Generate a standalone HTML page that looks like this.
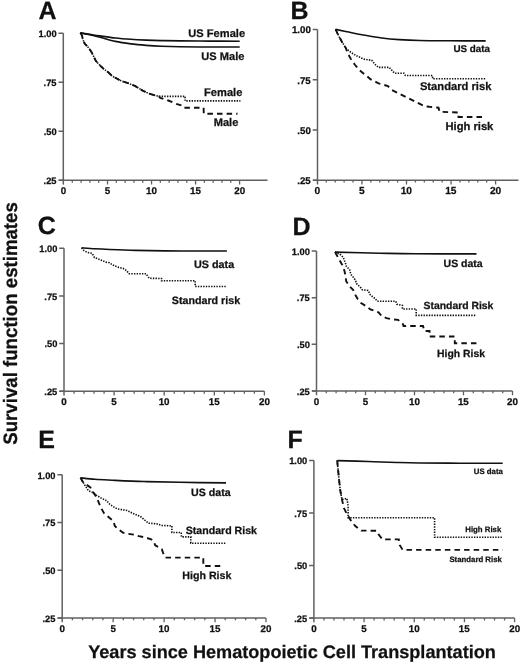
<!DOCTYPE html><html><head><meta charset="utf-8"><style>
html,body{margin:0;padding:0;background:#fff;}
svg{display:block;will-change:transform;}
text{font-family:"Liberation Sans",sans-serif;font-weight:bold;fill:#111;text-rendering:geometricPrecision;stroke:#111;stroke-width:0.25px;}
.ax{stroke:#606060;stroke-width:1.5;fill:none;}
.tk{stroke:#606060;stroke-width:1.3;fill:none;}
.so{stroke:#111;stroke-width:1.6;fill:none;stroke-linejoin:round;}
.dt{stroke:#111;stroke-width:1.6;fill:none;stroke-dasharray:1.4 1.25;}
.da{stroke:#111;stroke-width:1.9;fill:none;stroke-dasharray:5.5 4.1;}
</style></head><body>
<svg width="520" height="663" viewBox="0 0 520 663">
<rect width="520" height="663" fill="#fff"/>
<text x="38.38" y="18.5" font-size="25">A</text>
<text x="290.48" y="18.5" font-size="25">B</text>
<text x="37.7" y="234.3" font-size="25">C</text>
<text x="292.48" y="234.8" font-size="25">D</text>
<text x="38.17" y="447.7" font-size="25">E</text>
<text x="287.57" y="447.7" font-size="25">F</text>
<text transform="translate(16.5 444.3) rotate(-90) scale(1 1.04)" x="-0.47" y="0" font-size="18.66">Survival function estimates</text>
<text x="88.23" y="657.8" font-size="18.12">Years since Hematopoietic Cell Transplantation</text>
<path class="ax" d="M63.3 33.2 V184.6"/>
<path class="ax" d="M58.8 180.3 H267.5"/>
<text x="38.54" y="37" font-size="9.3">1.00</text>
<text x="43.61" y="86.03" font-size="9.3">.75</text>
<text x="43.7" y="135.07" font-size="9.3">.50</text>
<text x="43.61" y="184.1" font-size="9.3">.25</text>
<path class="ax" d="M58.5 33.2 H63.3 M58.5 82.23 H63.3 M58.5 131.27 H63.3 M58.5 180.3 H63.3 "/>
<path class="tk" d="M72.31 180.3 V182.7 M81.11 180.3 V182.7 M89.91 180.3 V182.7 M98.72 180.3 V182.7 M107.53 180.3 V184.6 M116.33 180.3 V182.7 M125.13 180.3 V182.7 M133.94 180.3 V182.7 M142.75 180.3 V182.7 M151.55 180.3 V184.6 M160.35 180.3 V182.7 M169.16 180.3 V182.7 M177.97 180.3 V182.7 M186.77 180.3 V182.7 M195.57 180.3 V184.6 M204.38 180.3 V182.7 M213.19 180.3 V182.7 M221.99 180.3 V182.7 M230.79 180.3 V182.7 M239.6 180.3 V184.6 "/>
<text x="60.78" y="193.9" font-size="9.8">0</text>
<text x="104.78" y="193.9" font-size="9.8">5</text>
<text x="145.99" y="193.9" font-size="9.8">10</text>
<text x="189.96" y="193.9" font-size="9.8">15</text>
<text x="234.19" y="193.9" font-size="9.8">20</text>
<path class="so" d="M80.3 32.9 C81.92 33.15 86.72 33.9 90 34.4 C93.28 34.9 95.77 35.3 100 35.9 C104.23 36.5 110.27 37.43 115.4 38 C120.53 38.57 125.67 38.95 130.8 39.3 C135.93 39.65 141.08 39.88 146.2 40.1 C151.32 40.32 155.87 40.47 161.5 40.6 C167.13 40.73 171.92 40.82 180 40.9 C188.08 40.98 200.05 41.05 210 41.1 C219.95 41.15 234.75 41.18 239.7 41.2"/>
<path class="so" d="M80.3 32.9 C81.92 33.22 86.72 34.08 90 34.8 C93.28 35.52 95.77 36.1 100 37.2 C104.23 38.3 110.27 40.28 115.4 41.4 C120.53 42.52 125.67 43.23 130.8 43.9 C135.93 44.57 141.08 45 146.2 45.4 C151.32 45.8 155.87 46.07 161.5 46.3 C167.13 46.53 171.92 46.68 180 46.8 C188.08 46.92 200.05 46.97 210 47 C219.95 47.03 234.75 47 239.7 47"/>
<path class="dt" d="M80.3 33 L81.8 35 L82.9 39.5 L84.7 43.6 L87.5 46.5 L89.6 49.3 L91.6 52.2 L93.3 55.7 L95.6 60.5 L99 64.4 L103 68.3 L108.5 72.5 L112.5 76.3 L117.9 79.2 L121.9 81.2 L128.6 83.3 L135.4 86.2 L142.1 90.3 L148.8 93.5 L155.6 95.6 L158.8 96.4 L185.1 96.4 L185.1 100.9 L240.4 100.9"/>
<path class="da" d="M80.3 33 L81.8 35 L82.9 39.5 L84.7 43.6 L87.5 46.5 L89.6 49.3 L91.6 52.2 L93.3 55.7 L95.6 60.5 L99 64.4 L103 68.3 L108.5 72.5 L112.5 76.3 L117.9 79.2 L121.9 81.2 L128.6 83.3 L135.4 86.2 L142.1 90.3 L148.8 93.5 L155.6 95.6 L158.8 96.4 L160.2 97.8 L168.3 100.5 L176.3 103.8 L183.1 105.9 L184.2 107.7 L203.6 107.7 L203.8 113.7 L237.5 113.7"/>
<text x="188.33" y="37" font-size="11.1">US Female</text>
<text x="201.33" y="59.5" font-size="11.1">US Male</text>
<text x="204.08" y="96.3" font-size="11.1">Female</text>
<text x="213.68" y="126.2" font-size="11.1">Male</text>
<path class="ax" d="M317.5 29.4 V184.5"/>
<path class="ax" d="M313 180.2 H518.5"/>
<text x="291.97" y="33.34" font-size="9.7">1.00</text>
<text x="297.26" y="83.61" font-size="9.7">.75</text>
<text x="297.36" y="133.88" font-size="9.7">.50</text>
<text x="297.26" y="184.14" font-size="9.7">.25</text>
<path class="ax" d="M312.7 29.4 H317.5 M312.7 79.67 H317.5 M312.7 129.93 H317.5 M312.7 180.2 H317.5 "/>
<path class="tk" d="M326.31 180.2 V182.6 M335.22 180.2 V182.6 M344.13 180.2 V182.6 M353.04 180.2 V182.6 M361.95 180.2 V184.5 M370.86 180.2 V182.6 M379.77 180.2 V182.6 M388.68 180.2 V182.6 M397.59 180.2 V182.6 M406.5 180.2 V184.5 M415.41 180.2 V182.6 M424.32 180.2 V182.6 M433.23 180.2 V182.6 M442.14 180.2 V182.6 M451.05 180.2 V184.5 M459.96 180.2 V182.6 M468.87 180.2 V182.6 M477.78 180.2 V182.6 M486.69 180.2 V182.6 M495.6 180.2 V184.5 "/>
<text x="314.57" y="193.8" font-size="10.2">0</text>
<text x="359.09" y="193.8" font-size="10.2">5</text>
<text x="400.71" y="193.8" font-size="10.2">10</text>
<text x="445.21" y="193.8" font-size="10.2">15</text>
<text x="489.96" y="193.8" font-size="10.2">20</text>
<path class="so" d="M335.6 29.4 C337.55 29.8 342.47 30.83 347.3 31.8 C352.13 32.77 358.83 34.17 364.6 35.2 C370.37 36.23 376.13 37.27 381.9 38 C387.67 38.73 392.85 39.18 399.2 39.6 C405.55 40.02 411.53 40.3 420 40.5 C428.47 40.7 439.05 40.73 450 40.8 C460.95 40.87 479.75 40.88 485.7 40.9"/>
<path class="dt" d="M335.6 29.4 L338.2 35 L342 41.9 L345.8 48.1 L351.2 52.7 L356.6 55.8 L364.3 59.3 L371.7 60.3 L375.8 65.1 L378.5 67.4 L389.2 67.4 L394.6 73.2 L404 73.2 L405.4 75.5 L432.3 75.5 L432.8 78.7 L486.2 78.7"/>
<path class="da" d="M335.6 29.4 L338.2 35 L342 41.9 L345.8 48.1 L348.2 54.2 L351.2 59.6 L355.1 65 L358.9 69.6 L364.3 74.2 L366.9 76 L370.4 79.2 L378.5 83.3 L387.9 86 L391.9 90 L400 94 L408.1 98.1 L416.1 102.1 L424.2 106.1 L429.2 106.8 L438.5 107.7 L439.5 111.8 L452.3 112.3 L458.5 112.5 L458.5 117 L485.4 117"/>
<text x="453.41" y="51.8" font-size="9.8">US data</text>
<text x="419.92" y="90.3" font-size="11.2">Standard risk</text>
<text x="445.47" y="130" font-size="11.2">High risk</text>
<path class="ax" d="M64 248.2 V395.6"/>
<path class="ax" d="M59.5 391.3 H264.4"/>
<text x="39.24" y="252" font-size="9.3">1.00</text>
<text x="44.31" y="299.7" font-size="9.3">.75</text>
<text x="44.4" y="347.4" font-size="9.3">.50</text>
<text x="44.31" y="395.1" font-size="9.3">.25</text>
<path class="ax" d="M59.2 248.2 H64 M59.2 295.9 H64 M59.2 343.6 H64 M59.2 391.3 H64 "/>
<path class="tk" d="M74.02 391.3 V393.7 M84.04 391.3 V393.7 M94.06 391.3 V393.7 M104.08 391.3 V393.7 M114.1 391.3 V395.6 M124.12 391.3 V393.7 M134.14 391.3 V393.7 M144.16 391.3 V393.7 M154.18 391.3 V393.7 M164.2 391.3 V395.6 M174.22 391.3 V393.7 M184.24 391.3 V393.7 M194.26 391.3 V393.7 M204.28 391.3 V393.7 M214.3 391.3 V395.6 M224.32 391.3 V393.7 M234.34 391.3 V393.7 M244.36 391.3 V393.7 M254.38 391.3 V393.7 M264.4 391.3 V395.6 "/>
<text x="61.28" y="404.9" font-size="9.8">0</text>
<text x="111.36" y="404.9" font-size="9.8">5</text>
<text x="158.64" y="404.9" font-size="9.8">10</text>
<text x="208.69" y="404.9" font-size="9.8">15</text>
<text x="258.99" y="404.9" font-size="9.8">20</text>
<path class="so" d="M81.6 247.8 C83.83 247.97 90.33 248.52 95 248.8 C99.67 249.08 102.83 249.23 109.6 249.5 C116.37 249.77 126.37 250.17 135.6 250.4 C144.83 250.63 154.27 250.8 165 250.9 C175.73 251 189.68 250.98 200 251 C210.32 251.02 222.42 251 226.9 251"/>
<path class="dt" d="M81.6 247.8 L84.1 250.7 L87.5 252.4 L92.2 253.5 L94.5 257.6 L99.1 259.3 L106 262.2 L109.5 262.8 L112.9 265.1 L118.7 267.4 L123.3 268.5 L126.8 270.8 L129.1 273.7 L146 273.7 L147.7 276.3 L149.4 278.3 L161.5 278.5 L161.5 280.8 L195.2 280.8 L195.2 286.5 L227 286.5"/>
<text x="193.95" y="268.3" font-size="10.8">US data</text>
<text x="171.83" y="303.5" font-size="10.7">Standard risk</text>
<path class="ax" d="M316.5 251 V395.2"/>
<path class="ax" d="M312 390.9 H512.5"/>
<text x="291.74" y="254.8" font-size="9.3">1.00</text>
<text x="296.81" y="301.43" font-size="9.3">.75</text>
<text x="296.9" y="348.07" font-size="9.3">.50</text>
<text x="296.81" y="394.7" font-size="9.3">.25</text>
<path class="ax" d="M311.7 251 H316.5 M311.7 297.63 H316.5 M311.7 344.27 H316.5 M311.7 390.9 H316.5 "/>
<path class="tk" d="M326.3 390.9 V393.3 M336.1 390.9 V393.3 M345.9 390.9 V393.3 M355.7 390.9 V393.3 M365.5 390.9 V395.2 M375.3 390.9 V393.3 M385.1 390.9 V393.3 M394.9 390.9 V393.3 M404.7 390.9 V393.3 M414.5 390.9 V395.2 M424.3 390.9 V393.3 M434.1 390.9 V393.3 M443.9 390.9 V393.3 M453.7 390.9 V393.3 M463.5 390.9 V395.2 M473.3 390.9 V393.3 M483.1 390.9 V393.3 M492.9 390.9 V393.3 M502.7 390.9 V393.3 M512.5 390.9 V395.2 "/>
<text x="313.78" y="404.5" font-size="9.8">0</text>
<text x="362.76" y="404.5" font-size="9.8">5</text>
<text x="408.94" y="404.5" font-size="9.8">10</text>
<text x="457.89" y="404.5" font-size="9.8">15</text>
<text x="507.09" y="404.5" font-size="9.8">20</text>
<path class="so" d="M335 252.1 C342.5 252.28 366.67 252.92 380 253.2 C393.33 253.48 398.92 253.68 415 253.8 C431.08 253.92 466.25 253.88 476.5 253.9"/>
<path class="dt" d="M335 252.1 L340.6 254.7 L343.2 257.3 L345.8 264.2 L346.2 266.2 L349.6 269.6 L350.8 274.2 L355.4 280 L356.5 283.5 L361.1 288.1 L362.3 289.8 L368.1 290.4 L370.4 295 L375 298.5 L377.3 301.3 L395.8 301.3 L396.9 304.2 L402.4 305.4 L402.4 309 L416.2 309 L416.2 315.4 L476.2 315.4"/>
<path class="da" d="M335 252.1 L338 257.3 L342.3 265.1 L344.5 271 L345.3 275 L346.2 281.2 L349.6 286.3 L353.1 289.8 L355.4 295 L357.7 299 L361.1 303.1 L365.8 306 L370.4 309.4 L378.5 312.3 L381.9 316.3 L386.5 318.1 L391.1 319.2 L398.1 319.9 L403.1 324.3 L403.5 326 L423 326 L424.4 331 L429.5 331 L429.5 336.5 L454.8 336.5 L454.8 343.3 L476.7 343.3"/>
<text x="443.57" y="266.9" font-size="10.5">US data</text>
<text x="423.54" y="309.3" font-size="10.4">Standard Risk</text>
<text x="437.02" y="356.8" font-size="10.4">High Risk</text>
<path class="ax" d="M62.2 474.8 V622.2"/>
<path class="ax" d="M57.7 617.9 H266"/>
<text x="37.44" y="478.6" font-size="9.3">1.00</text>
<text x="42.51" y="526.3" font-size="9.3">.75</text>
<text x="42.6" y="574" font-size="9.3">.50</text>
<text x="42.51" y="621.7" font-size="9.3">.25</text>
<path class="ax" d="M57.4 474.8 H62.2 M57.4 522.5 H62.2 M57.4 570.2 H62.2 M57.4 617.9 H62.2 "/>
<path class="tk" d="M72.39 617.9 V620.3 M82.58 617.9 V620.3 M92.77 617.9 V620.3 M102.96 617.9 V620.3 M113.15 617.9 V622.2 M123.34 617.9 V620.3 M133.53 617.9 V620.3 M143.72 617.9 V620.3 M153.91 617.9 V620.3 M164.1 617.9 V622.2 M174.29 617.9 V620.3 M184.48 617.9 V620.3 M194.67 617.9 V620.3 M204.86 617.9 V620.3 M215.05 617.9 V622.2 M225.24 617.9 V620.3 M235.43 617.9 V620.3 M245.62 617.9 V620.3 M255.81 617.9 V620.3 M266 617.9 V622.2 "/>
<text x="59.48" y="631.5" font-size="9.8">0</text>
<text x="110.41" y="631.5" font-size="9.8">5</text>
<text x="158.54" y="631.5" font-size="9.8">10</text>
<text x="209.44" y="631.5" font-size="9.8">15</text>
<text x="260.59" y="631.5" font-size="9.8">20</text>
<path class="so" d="M80.5 477.8 C82.92 478.05 89.7 478.9 95 479.3 C100.3 479.7 104.13 479.83 112.3 480.2 C120.47 480.57 132.72 481.15 144 481.5 C155.28 481.85 166.33 482.07 180 482.3 C193.67 482.53 218.33 482.8 226 482.9"/>
<path class="dt" d="M80.5 477.8 L82.7 481.6 L85.6 486.4 L88.5 490.8 L93.3 492.7 L96.2 495.1 L101 498 L106.8 500.8 L109.7 504.2 L113 506.5 L117.5 509 L126.9 510.4 L132.3 513.1 L140.4 516.4 L144.4 519.8 L148.5 523.2 L156.5 523.8 L161.9 525.5 L171.9 525.8 L171.9 532.5 L181.2 532.5 L181.5 536.9 L190.8 536.9 L190.8 543.2 L226.3 543.2"/>
<path class="da" d="M80.5 477.8 L82.7 481.6 L84.7 483.5 L90.4 487.4 L92.3 491.2 L95.2 495.1 L98.1 500.8 L100.5 507 L104 513.1 L109.4 517.8 L113.5 521.2 L114.8 525.9 L117.5 528.6 L122.9 532.6 L128.3 533.9 L133.6 534.6 L139 536.2 L145.8 537.6 L151.1 539.3 L153.8 541.3 L155.2 545.4 L159.2 547.4 L161.9 549.4 L163.3 553.5 L165.4 557.6 L203.3 557.6 L203.3 566 L223.5 566"/>
<text x="191.06" y="496" font-size="10.65">US data</text>
<text x="185.74" y="533.8" font-size="10.6">Standard Risk</text>
<text x="182.31" y="579" font-size="10.65">High Risk</text>
<path class="ax" d="M313.9 460.5 V622.3"/>
<path class="ax" d="M309.4 618 H514.6"/>
<text x="289.14" y="464.3" font-size="9.3">1.00</text>
<text x="294.21" y="516.8" font-size="9.3">.75</text>
<text x="294.3" y="569.3" font-size="9.3">.50</text>
<text x="294.21" y="621.8" font-size="9.3">.25</text>
<path class="ax" d="M309.1 460.5 H313.9 M309.1 513 H313.9 M309.1 565.5 H313.9 M309.1 618 H313.9 "/>
<path class="tk" d="M323.94 618 V620.4 M333.97 618 V620.4 M344 618 V620.4 M354.04 618 V620.4 M364.07 618 V622.3 M374.11 618 V620.4 M384.14 618 V620.4 M394.18 618 V620.4 M404.21 618 V620.4 M414.25 618 V622.3 M424.28 618 V620.4 M434.32 618 V620.4 M444.36 618 V620.4 M454.39 618 V620.4 M464.43 618 V622.3 M474.46 618 V620.4 M484.5 618 V620.4 M494.53 618 V620.4 M504.57 618 V620.4 M514.6 618 V622.3 "/>
<text x="311.18" y="631.6" font-size="9.8">0</text>
<text x="361.33" y="631.6" font-size="9.8">5</text>
<text x="408.69" y="631.6" font-size="9.8">10</text>
<text x="458.81" y="631.6" font-size="9.8">15</text>
<text x="509.19" y="631.6" font-size="9.8">20</text>
<path class="so" d="M337.7 460.6 C342.77 460.75 358.23 461.18 368.1 461.5 C377.97 461.82 388.25 462.25 396.9 462.5 C405.55 462.75 409.48 462.88 420 463 C430.52 463.12 446.22 463.17 460 463.2 C473.78 463.23 495.58 463.2 502.7 463.2"/>
<path class="dt" d="M337.2 460.4 L337.8 467 L339 479.1 L340.2 490 L342 499.6 L346.9 498.4 L348.1 505.6 L348.1 517.8 L434.6 517.8 L434.6 537.2 L502.2 537.2"/>
<path class="da" d="M337.2 460.4 L337.8 467 L339 479.1 L340.2 490 L342 499.6 L343.9 508 L346.9 514 L351 520.7 L355.3 526.1 L361.3 530.6 L376.7 530.8 L378.7 534.6 L382.5 539.4 L398.8 539.4 L399.8 545.2 L402.7 549.9 L502.7 549.9"/>
<text x="473.83" y="474.2" font-size="7.8">US data</text>
<text x="465.29" y="532" font-size="7.8">High Risk</text>
<text x="449.41" y="562" font-size="7.8">Standard Risk</text>
</svg></body></html>
